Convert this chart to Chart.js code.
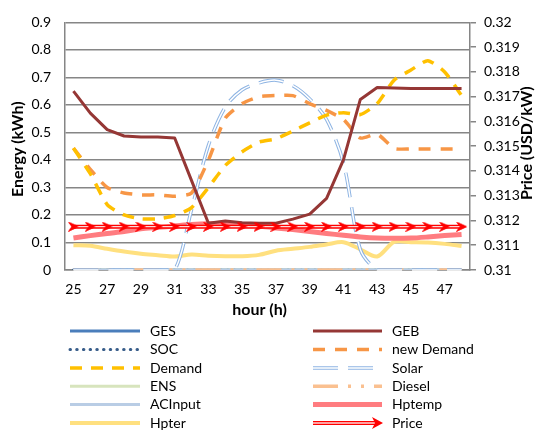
<!DOCTYPE html>
<html>
<head>
<meta charset="utf-8">
<script src="https://cdn.jsdelivr.net/npm/chart.js@4.4.1/dist/chart.umd.min.js"></script>
<style>
  html, body { margin: 0; padding: 0; background: #ffffff; }
  canvas { display: block; }
</style>
</head>
<body>
<canvas id="chart" width="536" height="434"></canvas>
<script>
// Hourly energy balance (hours 25-48)
const hours = ['25','26','27','28','29','30','31','32','33','34','35','36',
               '37','38','39','40','41','42','43','44','45','46','47','48'];
const hourTicks = ['25','27','29','31','33','35','37','39','41','43','45','47'];
const energyTicks = ['0','0.1','0.2','0.3','0.4','0.5','0.6','0.7','0.8','0.9'];
const priceTicks = ['0.31','0.311','0.312','0.313','0.314','0.315','0.316','0.317','0.318','0.319','0.32'];

const ges     = [0,0,0,0,0,0,0,0,0,0,0,0,0,0,0,0,0,0,0,0,0,0,0,0];
const soc     = [0,0,0,0,0,0,0,0,0,0,0,0,0,0,0,0,0,0,0,0,0,0,0,0];
const ens     = [0,0,0,0,0,0,0,0,0,0,0,0,0,0,0,0,0,0,0,0,0,0,0,0];
const acInput = [0,0,0,0,0,0,0,0,0,0,0,0,0,0,0,0,0,0,0,0,0,0,0,0];
const diesel  = [0,0,0,0,0,0,0,0,0,0,0,0,0,0,0,0,0,0,0,0,0,0,0,0];
const geb     = [0.65,0.57,0.51,0.487,0.483,0.483,0.48,0.325,0.17,0.178,0.172,0.17,
                 0.17,0.185,0.203,0.26,0.40,0.62,0.663,0.662,0.66,0.66,0.66,0.66];
const demand  = [0.443,0.35,0.238,0.20,0.186,0.186,0.198,0.227,0.30,0.38,0.43,0.465,
                 0.477,0.505,0.535,0.563,0.572,0.565,0.605,0.69,0.727,0.761,0.72,0.634];
const newDemand = [0.443,0.366,0.30,0.28,0.273,0.273,0.268,0.28,0.40,0.552,0.605,0.63,
                   0.634,0.634,0.605,0.58,0.547,0.48,0.494,0.442,0.44,0.44,0.44,0.44];
const solar   = [0,0,0,0,0,0,0,0.22,0.453,0.593,0.655,0.68,
                 0.69,0.67,0.622,0.547,0.39,0.075,0,0,0,0,0,0];
const hptemp  = [0.116,0.125,0.133,0.14,0.15,0.155,0.16,0.165,0.168,0.168,0.165,0.16,
                 0.153,0.147,0.14,0.133,0.126,0.12,0.116,0.115,0.116,0.12,0.125,0.129];
const hpter   = [0.09,0.088,0.077,0.067,0.059,0.054,0.049,0.056,0.052,0.05,0.05,0.055,
                 0.07,0.077,0.084,0.093,0.101,0.075,0.049,0.102,0.101,0.1,0.095,0.087];
const price   = [0.31175,0.31175,0.31175,0.31175,0.31175,0.31175,0.31175,0.31175,
                 0.31175,0.31175,0.31175,0.31175,0.31175,0.31175,0.31175,0.31175,
                 0.31175,0.31175,0.31175,0.31175,0.31175,0.31175,0.31175,0.31175];

const FONT = 'Lato, "Open Sans", sans-serif';
Chart.defaults.font.family = FONT;
Chart.defaults.font.size = 14;
Chart.defaults.color = '#000000';

const AXIS_GREY = '#868686';

// Arrow-head marker used for the price series
function arrowHead(w, h, color) {
  const c = document.createElement('canvas');
  c.width = w; c.height = h;
  const g = c.getContext('2d');
  g.fillStyle = color;
  g.beginPath();
  g.moveTo(0, 0);
  g.lineTo(w, h / 2);
  g.lineTo(0, h);
  g.lineTo(w * 0.35, h / 2);
  g.closePath();
  g.fill();
  return c;
}
const priceMarker = arrowHead(11, 10, '#ff0000');

function line(label, data, color, width, extra) {
  return Object.assign({
    label, data,
    borderColor: color,
    backgroundColor: color,
    borderWidth: width,
    borderDash: [],
    borderCapStyle: 'butt',
    borderJoinStyle: 'round',
    pointRadius: 0,
    pointHoverRadius: 0,
    fill: false,
    tension: 0,
    yAxisID: 'y'
  }, extra || {});
}

const datasets = [
  line('GES', ges, '#4A7EBB', 3, { order: 11 }),
  line('SOC', soc, '#385D8A', 3, { order: 10, borderDash: [0.5, 6.2], borderCapStyle: 'round' }),
  line('Demand', demand, '#FFC000', 3.5, { order: 2, borderDash: [12, 9], tension: 0.2 }),
  line('ENS', ens, '#D7E4BD', 3, { order: 9 }),
  line('ACInput', acInput, '#B9CDE5', 3, { order: 8 }),
  line('Hpter', hpter, '#FFE07F', 4, { order: 6, tension: 0.3 }),
  line('GEB', geb, '#953735', 3, { order: 1 }),
  line('new Demand', newDemand, '#F79646', 3.5, { order: 3, borderDash: [12, 10], tension: 0.2 }),
  line('Solar', solar, '#8EB4E3', 3.5, { order: 4, borderDash: [25, 10], tension: 0.3,
        innerColor: '#ffffff', innerWidth: 1.5 }),
  line('Diesel', diesel, '#FAC090', 3.5, { order: 7, borderDash: [25, 10, 3, 10, 3, 10] }),
  line('Hptemp', hptemp, '#FF7C80', 5, { order: 5, tension: 0.3 }),
  line('Price', price, '#FF0000', 4, { order: 0, yAxisID: 'y1', pointStyle: priceMarker,
        pointRadius: 6, innerColor: '#ffd6d6', innerWidth: 1.4 })
];

// Second stroke for double-line series; price arrow heads are put back on top of it
const doubleLine = {
  id: 'doubleLine',
  afterDatasetDraw(chart, args) {
    const ds = chart.data.datasets[args.index];
    if (!ds.innerColor) return;
    const meta = args.meta;
    const ctx = chart.ctx;
    const a = chart.chartArea;
    ctx.save();
    ctx.beginPath();
    ctx.rect(a.left, a.top - 4, a.right - a.left, a.bottom - a.top + 8);
    ctx.clip();
    ctx.beginPath();
    meta.dataset.path(ctx);
    ctx.lineWidth = ds.innerWidth;
    ctx.strokeStyle = ds.innerColor;
    ctx.setLineDash(ds.borderDash || []);
    ctx.lineCap = 'butt';
    ctx.lineJoin = 'round';
    ctx.stroke();
    ctx.restore();
    if (ds.pointRadius > 0) {
      meta.data.forEach(pt => pt.draw(ctx, a));
    }
  }
};

// Axis titles
const axisTitles = {
  id: 'axisTitles',
  afterDraw(chart) {
    const ctx = chart.ctx;
    const a = chart.chartArea;
    ctx.save();
    ctx.fillStyle = '#000000';
    ctx.font = 'bold 16px ' + FONT;
    ctx.textAlign = 'center';
    ctx.textBaseline = 'middle';
    ctx.fillText('hour (h)', (a.left + a.right) / 2 - 8, 310);
    ctx.save();
    ctx.translate(18, (a.top + a.bottom) / 2 + 3);
    ctx.rotate(-Math.PI / 2);
    ctx.fillText('Energy (kWh)', 0, 0);
    ctx.restore();
    ctx.save();
    ctx.translate(527, (a.top + a.bottom) / 2 - 3);
    ctx.rotate(-Math.PI / 2);
    ctx.fillText('Price (USD/kW)', 0, 0);
    ctx.restore();
    ctx.restore();
  }
};

// Two-column legend below the plot
const legendLayout = [
  ['GES', 0, 0], ['SOC', 0, 1], ['Demand', 0, 2], ['ENS', 0, 3], ['ACInput', 0, 4], ['Hpter', 0, 5],
  ['GEB', 1, 0], ['new Demand', 1, 1], ['Solar', 1, 2], ['Diesel', 1, 3], ['Hptemp', 1, 4], ['Price', 1, 5]
];
const twoColumnLegend = {
  id: 'twoColumnLegend',
  afterDraw(chart) {
    const ctx = chart.ctx;
    const cols = [{ x0: 70, x1: 140, tx: 150 }, { x0: 313, x1: 382, tx: 392 }];
    const rowY = [331, 349.5, 368, 386.3, 404.6, 423];
    ctx.save();
    legendLayout.forEach(([label, c, r]) => {
      const ds = chart.data.datasets.find(d => d.label === label);
      const col = cols[c];
      const y = rowY[r];
      const x1 = label === 'Price' ? col.x1 - 6 : col.x1;
      ctx.save();
      ctx.beginPath();
      ctx.moveTo(col.x0, y);
      ctx.lineTo(x1, y);
      ctx.strokeStyle = ds.borderColor;
      ctx.lineWidth = ds.borderWidth;
      ctx.lineCap = ds.borderCapStyle;
      ctx.setLineDash(ds.borderDash);
      ctx.stroke();
      if (ds.innerColor) {
        ctx.lineWidth = ds.innerWidth;
        ctx.strokeStyle = ds.innerColor;
        ctx.stroke();
      }
      if (label === 'Price') {
        ctx.setLineDash([]);
        ctx.fillStyle = ds.borderColor;
        ctx.beginPath();
        ctx.moveTo(col.x1 - 10, y - 6);
        ctx.lineTo(col.x1 + 1, y);
        ctx.lineTo(col.x1 - 10, y + 6);
        ctx.lineTo(col.x1 - 7, y);
        ctx.closePath();
        ctx.fill();
      }
      ctx.restore();
      ctx.fillStyle = '#000000';
      ctx.font = '14px ' + FONT;
      ctx.textAlign = 'left';
      ctx.textBaseline = 'middle';
      ctx.fillText(label, col.tx, y);
    });
    ctx.restore();
  }
};

new Chart(document.getElementById('chart'), {
  type: 'line',
  data: { labels: hours, datasets },
  options: {
    responsive: false,
    animation: false,
    events: [],
    layout: { padding: { top: 12, left: 0, right: 0, bottom: 0 } },
    plugins: {
      legend: { display: false },
      tooltip: { enabled: false }
    },
    scales: {
      x: {
        type: 'category',
        offset: true,
        grid: { display: false, drawTicks: false },
        border: { display: true, color: AXIS_GREY, width: 1.5 },
        ticks: {
          autoSkip: false,
          maxRotation: 0,
          padding: 11,
          callback: (v, i) => hourTicks.includes(hours[i]) ? hours[i] : ''
        },
        afterFit: s => { s.height = 164; }
      },
      y: {
        position: 'left',
        min: 0,
        max: 0.9,
        grid: { color: AXIS_GREY, lineWidth: 1.5, drawTicks: false },
        border: { display: true, color: AXIS_GREY, width: 1.5 },
        ticks: {
          stepSize: 0.1,
          padding: 14,
          callback: v => energyTicks[Math.round(v * 10)]
        },
        afterFit: s => { s.width = 65; }
      },
      y1: {
        position: 'right',
        min: 0.31,
        max: 0.32,
        grid: { drawOnChartArea: false, drawTicks: true, tickLength: 6, color: AXIS_GREY, lineWidth: 1.5 },
        border: { display: true, color: AXIS_GREY, width: 1.5 },
        ticks: {
          stepSize: 0.001,
          padding: 8,
          callback: v => priceTicks[Math.round((v - 0.31) * 1000)]
        },
        afterFit: s => { s.width = 66; }
      }
    }
  },
  plugins: [doubleLine, axisTitles, twoColumnLegend]
});
</script>
</body>
</html>
